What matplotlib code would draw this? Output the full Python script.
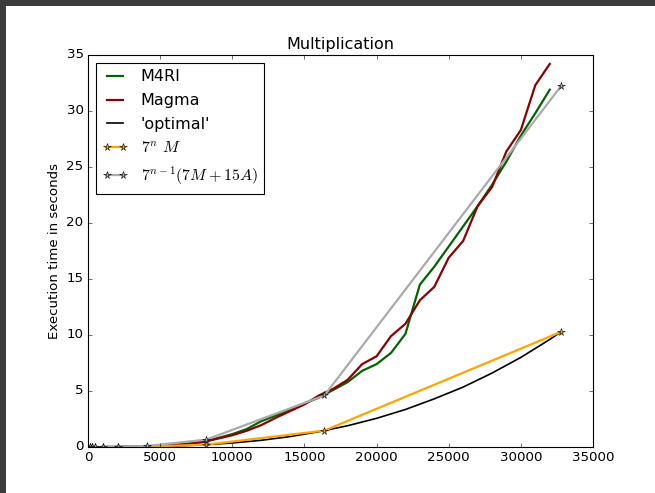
import matplotlib
matplotlib.use('Agg')
import matplotlib.pyplot as plt
from matplotlib.patches import Rectangle

# matrix dimension vs. seconds
dims = [1000, 2000, 3000, 4000, 5000, 6000, 7000, 8000, 9000, 10000,
        11000, 12000, 13000, 14000, 15000, 16000, 17000, 18000, 19000, 20000,
        21000, 22000, 23000, 24000, 25000, 26000, 27000, 28000, 29000, 30000,
        31000, 32000]
m4ri = [0.002, 0.01, 0.03, 0.06, 0.11, 0.19, 0.3, 0.45, 0.8, 1.15,
        1.6, 2.3, 2.8, 3.3, 3.9, 4.4, 5.1, 5.8, 6.8, 7.4,
        8.4, 10.1, 14.5, 16.1, 17.9, 19.7, 21.5, 23.4, 25.5, 27.8,
        29.8, 31.9]
magma = [0.002, 0.01, 0.03, 0.06, 0.11, 0.19, 0.3, 0.45, 0.75, 1.05,
         1.45, 1.95, 2.6, 3.2, 3.8, 4.6, 5.2, 6.0, 7.4, 8.1,
         9.9, 11.0, 13.1, 14.3, 16.9, 18.4, 21.5, 23.2, 26.4, 28.3,
         32.3, 34.2]

opt_dims = [0, 2000, 4000, 6000, 8000, 10000, 12000, 14000, 16000, 18000,
            20000, 22000, 24000, 26000, 28000, 30000, 32000, 32768]
optimal = [0.0, 0.004, 0.03, 0.085, 0.19, 0.36, 0.6, 0.93, 1.37, 1.9,
           2.56, 3.35, 4.3, 5.35, 6.6, 8.0, 9.6, 10.27]

pow_dims = [128, 256, 512, 1024, 2048, 4096, 8192, 16384, 32768]
est_mult = [0.0000018, 0.0000125, 0.000087, 0.00061, 0.00428, 0.0299, 0.2096, 1.467, 10.27]
est_full = [0.0000056, 0.000039, 0.00027, 0.00192, 0.0134, 0.0939, 0.657, 4.6, 32.2]

plt.style.use('classic')
fig = plt.figure(figsize=(655/80., 493/80.), dpi=80)
fig.patch.set_facecolor('#3c3c3c')
fig.patches.append(Rectangle((6/655., 0), 1, (493-6)/493., transform=fig.transFigure,
                             facecolor='white', edgecolor='none', zorder=-1))

ax = fig.add_axes([88/655., 46/493., (593-88)/655., 392/493.])
ax.plot(dims, m4ri, color='#006400', lw=2, label='M4RI')
ax.plot(dims, magma, color='#8b0000', lw=2, label='Magma')
ax.plot(opt_dims, optimal, color='black', lw=1.5, label="'optimal'")
ax.plot(pow_dims, est_mult, color='orange', lw=2, marker='*', ms=7,
        mfc='orange', mec='black', label=r'$7^n\ M$')
ax.plot(pow_dims, est_full, color='#aaaaaa', lw=2, marker='*', ms=7,
        mfc='#aaaaaa', mec='black', label=r'$7^{n-1}(7M+15A)$')

ax.set_xlim(0, 35000)
ax.set_ylim(0, 35)
ax.set_title('Multiplication', fontsize=14.4)
ax.set_ylabel('Execution time in seconds', fontsize=12)
ax.legend(loc='upper left', handlelength=1.6, fontsize=14.4, labelspacing=0.55)

fig.savefig('out.png', dpi=80, facecolor=fig.get_facecolor())
